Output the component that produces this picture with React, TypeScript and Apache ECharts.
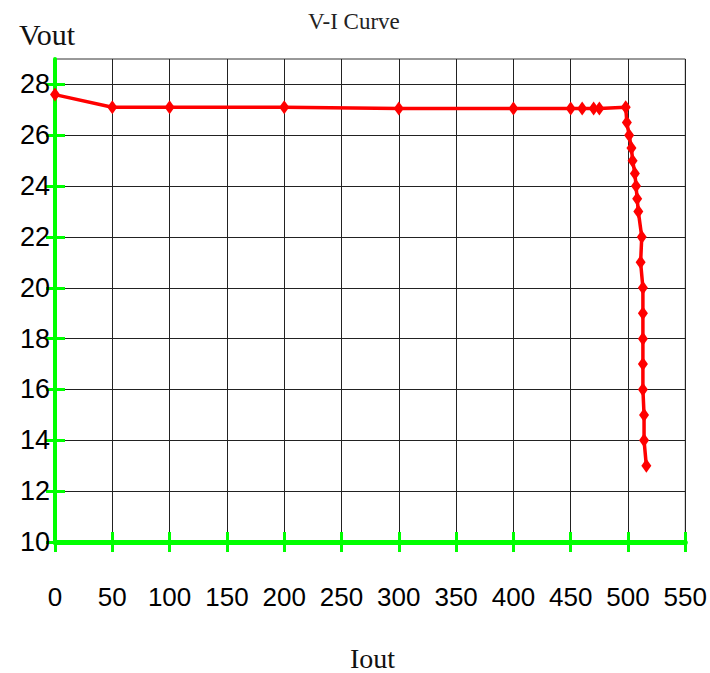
import React, { useEffect, useRef } from "react";
import * as echarts from "echarts";

const iout = [0, 50, 100, 200, 300, 400, 450, 460, 470, 475, 498, 499, 501, 503, 504, 506, 507, 508, 509, 512, 511, 513, 513, 513, 513, 513, 514, 514, 516];
const vout = [27.6, 27.1, 27.1, 27.1, 27.05, 27.05, 27.05, 27.05, 27.05, 27.05, 27.1, 26.5, 26, 25.5, 25, 24.5, 24, 23.5, 23, 22, 21, 20, 19, 18, 17, 16, 15, 14, 13];
const yTicks = [10, 12, 14, 16, 18, 20, 22, 24, 26, 28];

const title = "V-I Curve";
const xName = "Iout";
const yName = "Vout";

const GREEN = "#00ff00";
const RED = "#ff0000";
const SANS = "'Liberation Sans Narrow', 'Liberation Sans', Arial, sans-serif";
const SERIF = "'Liberation Serif', serif";

export default function App() {
  const ref = useRef<HTMLDivElement>(null);
  useEffect(() => {
    if (!ref.current) return;
    const chart = echarts.init(ref.current, undefined, { renderer: "svg" });
    const baseX = { type: "value", min: 0, max: 550, interval: 50, position: "bottom" };
    const baseY = { type: "value", min: 10, max: 29, interval: 2, position: "left" };
    chart.setOption({
      animation: false,
      backgroundColor: "#ffffff",
      title: [
        { text: title, left: 308, top: 10, padding: 0, textStyle: { fontFamily: SERIF, fontWeight: "normal", fontSize: 23, color: "#222" } },
        { text: yName, left: 19, top: 19, padding: 0, textStyle: { fontFamily: SERIF, fontWeight: "normal", fontSize: 30, color: "#111" } },
        { text: xName, left: 350, top: 644, padding: 0, textStyle: { fontFamily: SERIF, fontWeight: "normal", fontSize: 28, color: "#111" } },
      ],
      grid: { left: 55, right: 24, top: 59, bottom: 131, containLabel: false, show: true, borderColor: "#333", borderWidth: 1, backgroundColor: "transparent" },
      xAxis: [
        {
          ...baseX,
          axisLine: { show: true, onZero: false, lineStyle: { color: GREEN, width: 5 } },
          axisTick: { show: true, inside: false, length: 10, lineStyle: { color: GREEN, width: 3 } },
          axisLabel: { margin: 42, fontFamily: SANS, fontSize: 26, color: "#000" },
          splitLine: { show: true, lineStyle: { color: "#222", width: 1 } },
        },
        {
          ...baseX,
          axisLine: { show: false, onZero: false },
          axisTick: { show: true, inside: true, length: 10, lineStyle: { color: GREEN, width: 3 } },
          axisLabel: { show: false },
          splitLine: { show: false },
        },
      ],
      yAxis: [
        {
          ...baseY,
          axisLine: { show: true, onZero: false, lineStyle: { color: GREEN, width: 4 } },
          axisTick: { show: true, inside: false, length: 9, customValues: yTicks, lineStyle: { color: GREEN, width: 3 } },
          axisLabel: {
            margin: 5,
            fontFamily: SANS,
            fontSize: 27,
            color: "#000",
            customValues: yTicks,
          },
          splitLine: { show: true, lineStyle: { color: "#222", width: 1 } },
        },
        {
          ...baseY,
          axisLine: { show: false, onZero: false },
          axisTick: { show: true, inside: true, length: 10, customValues: yTicks, lineStyle: { color: GREEN, width: 3 } },
          axisLabel: { show: false },
          splitLine: { show: false },
        },
      ],
      series: [
        {
          type: "line",
          xAxisIndex: 0,
          yAxisIndex: 0,
          data: iout.map((x, i) => [x, vout[i]]),
          symbol: "diamond",
          symbolSize: [10, 14],
          showAllSymbol: true,
          lineStyle: { color: RED, width: 3.5 },
          itemStyle: { color: RED },
          z: 5,
        },
      ],
    });
    return () => chart.dispose();
  }, []);
  return <div ref={ref} style={{ width: 710, height: 673, position: "absolute", left: 0, top: 0 }} />;
}
